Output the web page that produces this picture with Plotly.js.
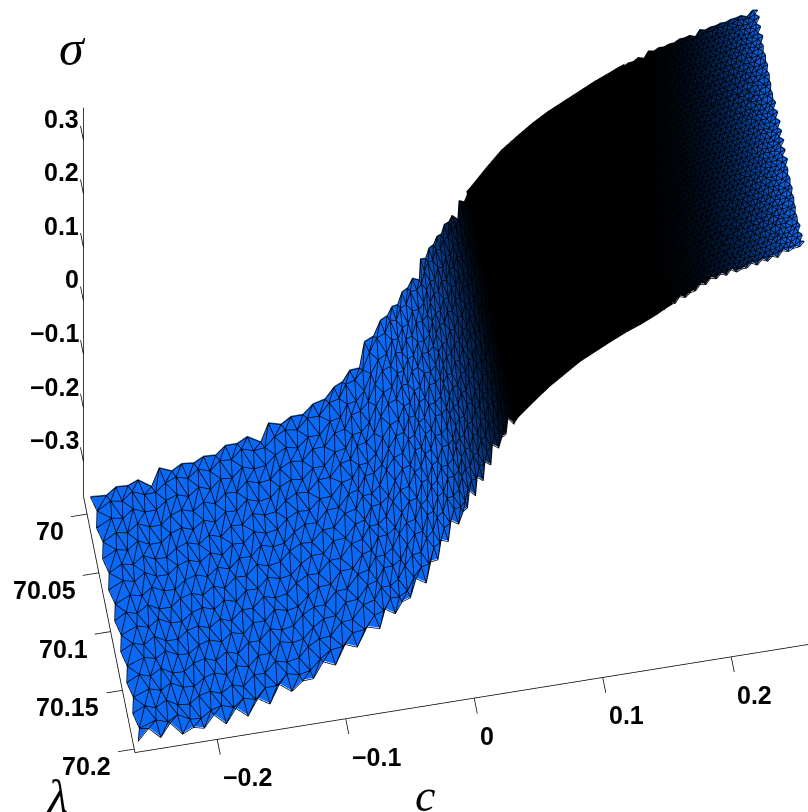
<!DOCTYPE html>
<html><head><meta charset="utf-8">
<script src="https://cdn.plot.ly/plotly-3.0.1.min.js"></script>
<style>html,body{margin:0;padding:0;background:#fff;overflow:hidden;width:808px;height:812px}#g{width:897px;height:812px}</style>
</head><body><div id="g"></div>
<script>
const cCoarse=[-.26,-.249,-.241,-.232,-.224,-.215,-.207,-.198,-.190,-.181,-.173,-.164,-.156,-.147,-.139,-.130,-.122,-.113,-.105,-.096,-.088,-.079,-.071,-.065,-.059,-.053,-.047,-.041,-.035,-.030,-.026,-.022,-.018,-.014,-.010,-.006,-.003,0,.003,.006,.009,.012,.015,.018,.021,.024,.027,.030,.033,.036];
const sigmaNearCoarse=[-.348,-.344,-.340,-.335,-.331,-.327,-.323,-.319,-.315,-.310,-.306,-.301,-.2955,-.289,-.283,-.277,-.272,-.265,-.260,-.253,-.2415,-.230,-.219,-.206,-.190,-.169,-.149,-.128,-.107,-.093,-.083,-.075,-.062,-.050,-.037,-.023,-.011,.001,.013,.025,.034,.043,.051,.060,.068,.077,.086,.094,.102,.109];
const sigmaFarCoarse=[-.36,-.36,-.36,-.36,-.36,-.359,-.358,-.357,-.354,-.351,-.346,-.338,-.33,-.321,-.313,-.305,-.298,-.29,-.277,-.263,-.25,-.236,-.222,-.211,-.199,-.187,-.176,-.163,-.151,-.136,-.111,-.097,-.08,-.066,-.051,-.037,-.025,-.014,-.003,.009,.023,.037,.05,.064,.079,.09,.101,.111,.119,.129];
const shadeCoarse=[1,1,1,1,1,1,1,1,1,1,1,1,1,1,1,1,1,1,1,1,1,1,1,1,1,1,1,1,1,1,1,1,1,.95,.9,.85,.8,.75,.7,.62,.55,.48,.4,.32,.25,.18,.12,.06,.02,0];
const lamCoarse=[69.99,70.0028,70.0156,70.0284,70.0413,70.0541,70.0669,70.0797,70.0925,70.1053,70.1181,70.1309,70.1438,70.1566,70.1694,70.1822,70.195];
const cBand=[.033,.036,.048,.060,.072,.084,.096,.108,.120,.132,.144,.150,.156];
const sigmaNearBand=[.102,.109,.140,.169,.190,.210,.227,.241,.255,.269,.281,.2875,.293];
const sigmaFarBand=[.119,.129,.153,.176,.195,.214,.228,.242,.255,.266,.279,.287,.2935];
const shadeBand=[0,0,0,0,0,0,0,0,0,0,0,0,0];
const lamBand=[69.99,70.195];
const cFine=[.150,.154,.158,.162,.166,.170,.174,.178,.182,.186,.190,.194,.198,.202,.206,.210,.214,.218,.222,.226,.230,.234,.238,.242,.246,.250,.255,.259];
const sigmaNearFine=[.2875,.291,.295,.298,.303,.306,.31,.312,.315,.317,.319,.322,.3245,.327,.329,.331,.3345,.336,.338,.341,.343,.345,.346,.349,.351,.353,.355,.358];
const sigmaFarFine=[.276,.280,.285,.289,.293,.298,.302,.306,.311,.315,.3185,.320,.322,.324,.325,.327,.329,.3305,.332,.334,.336,.3375,.340,.344,.348,.350,.353,.355];
const shadeNearFine=[0,0,0,0,0,0,.01,.02,.03,.04,.06,.08,.1,.13,.16,.2,.24,.28,.33,.38,.44,.5,.56,.64,.72,.8,.9,1];
const shadeFarFine=[.01,.02,.03,.04,.05,.07,.09,.11,.13,.16,.19,.22,.26,.3,.34,.38,.42,.46,.52,.58,.64,.7,.76,.82,.88,.94,1,1];
const lamFine=[69.99,69.994,69.998,70.002,70.006,70.01,70.014,70.018,70.022,70.026,70.03,70.034,70.038,70.042,70.046,70.05,70.054,70.058,70.062,70.066,70.07,70.074,70.078,70.082,70.086,70.09,70.094,70.098,70.102,70.106,70.11,70.114,70.118,70.122,70.126,70.13,70.134,70.138,70.142,70.146,70.15,70.154,70.158,70.162,70.166,70.17,70.174,70.178,70.182,70.186,70.19];
const lamWave=[.2,-.15,.1,-.25,.18,.28,-.08,-.2,.14,-.18];
const cBend=[.12,-.1,.2,-.16,.08,-.2,.16,.04,-.14,.1,-.08,.2,-.04];
const cTicks=[-.2,-.1,0,.1,.2], cTickText=['\u22120.2','\u22120.1','0','0.1','0.2'];
const lamTicks=[70,70.05,70.1,70.15,70.2], lamTickText=['70','70.05','70.1','70.15','70.2'];
const sigmaTicks=[-.3,-.2,-.1,0,.1,.2,.3], sigmaTickText=['\u22120.3','\u22120.2','\u22120.1','0','0.1','0.2','0.3'];
const cBox=[-.264,.264], lamBox=[69.985,70.203], sigmaBox=[-.364,.362];
const cRange=[-.277,.277], lamRange=[69.972,70.216], sigmaRange=[-.37,.363];
const cTickLen=.0142, lamTickLen=.0125, sigmaTickLen=.0127;
const BLUE=[10,105,245];

function build(cs,nr,fr,shN,shF,lams,plain){
  const x=[],y=[],z=[],col=[],I=[],J=[],K=[],lx=[],ly=[],lz=[];
  const l0=lams[0],l1=lams[lams.length-1],step=lams[1]-lams[0],last=lams.length-1;
  const idx=[];
  lams.forEach((lam,j)=>{
    const odd=!plain&&j%2;
    const n=odd?cs.length-1:cs.length;
    const row=[];
    for(let i=0;i<n;i++){
      const a=i, b=odd?i+1:i;
      const w=(f)=>(f[a]+f[b])/2;
      const sp=(i+1<cs.length?cs[i+1]-cs[i]:cs[i]-cs[i-1]);
      const c0=(odd&&i===0)?cs[0]+.25*sp:w(cs);
      let l=lam;
      if(!plain){
        l+=lamWave[i%lamWave.length]*step;
        if(j===0&&i%2) l+=step*.55;
        if(j===last&&i%2) l-=step*.55;
        if(j===last) l=Math.min(l,l1);
      }
      const cc=plain||i===0?c0:c0+cBend[j%cBend.length]*sp;
      const t=(l-l0)/(l1-l0);
      const s=w(nr)+t*(w(fr)-w(nr));
      const sh=w(shN)+t*(w(shF)-w(shN));
      row.push(x.length);
      x.push(cc);y.push(l);z.push(s);
      col.push('rgb('+BLUE.map(v=>Math.round(v*Math.max(0,Math.min(1,sh)))).join(',')+')');
    }
    idx.push(row);
  });
  const seg=(a,b)=>{ if(plain)return;
    lx.push(x[a],x[b],null);ly.push(y[a],y[b],null);lz.push(z[a]-.002,z[b]-.002,null);};
  for(let j=0;j+1<idx.length;j++){
    if(plain){
      for(let i=0;i+1<idx[j].length;i++){
        I.push(idx[j][i]);J.push(idx[j][i+1]);K.push(idx[j+1][i]);
        I.push(idx[j+1][i]);J.push(idx[j+1][i+1]);K.push(idx[j][i+1]);
      }
      continue;
    }
    const A=j%2?idx[j+1]:idx[j], B=j%2?idx[j]:idx[j+1];
    for(let i=0;i<B.length;i++){
      I.push(A[i]);J.push(A[i+1]);K.push(B[i]);
      seg(A[i],B[i]);seg(A[i+1],B[i]);
      if(i+1<B.length){I.push(B[i]);J.push(B[i+1]);K.push(A[i+1]);}
    }
  }
  idx.forEach(r=>{for(let i=0;i+1<r.length;i++)seg(r[i],r[i+1]);});
  const out=[{type:'mesh3d',x,y,z,i:I,j:J,k:K,vertexcolor:col,flatshading:false,
      lighting:{ambient:1,diffuse:0,specular:0,roughness:1,fresnel:0},hoverinfo:'skip',showscale:false}];
  if(!plain) out.push({type:'scatter3d',mode:'lines',x:lx,y:ly,z:lz,line:{color:'#000',width:1.5},hoverinfo:'skip',showlegend:false,connectgaps:false});
  return out;
}
const ax3={x:[],y:[],z:[]};
const add3=(p,q)=>{ax3.x.push(p[0],q[0],null);ax3.y.push(p[1],q[1],null);ax3.z.push(p[2],q[2],null);};
add3([cBox[0],lamBox[1],sigmaBox[0]],[cBox[1],lamBox[1],sigmaBox[0]]);
add3([cBox[0],lamBox[0],sigmaBox[0]],[cBox[0],lamBox[1],sigmaBox[0]]);
add3([cBox[0],lamBox[0],sigmaBox[0]],[cBox[0],lamBox[0],sigmaBox[1]]);
cTicks.forEach(v=>add3([v,lamBox[1],sigmaBox[0]],[v,lamBox[1]+cTickLen,sigmaBox[0]]));
lamTicks.forEach(v=>add3([cBox[0],v,sigmaBox[0]],[cBox[0]-lamTickLen,v,sigmaBox[0]]));
sigmaTicks.forEach(v=>add3([cBox[0],lamBox[0],v],[cBox[0],lamBox[0]-sigmaTickLen,v]));
const axisTrace={type:'scatter3d',mode:'lines',x:ax3.x,y:ax3.y,z:ax3.z,line:{color:'#000',width:1.5},hoverinfo:'skip',showlegend:false,connectgaps:false};

const traces=[].concat(
 build(cBand,sigmaNearBand,sigmaFarBand,shadeBand,shadeBand,lamBand,true),
 build(cCoarse,sigmaNearCoarse,sigmaFarCoarse,shadeCoarse,shadeCoarse,lamCoarse,false),
 build(cFine,sigmaNearFine,sigmaFarFine,shadeNearFine,shadeFarFine,lamFine,false),
 [axisTrace]);

const tf={family:'Liberation Sans',size:25,color:'#000',weight:'bold'};
const ax={showgrid:false,zeroline:false,showbackground:false,showline:false,ticks:'',showticklabels:false,showspikes:false,title:{text:''},tickmode:'array',tickvals:[]};
const W=897,H=812;
const ann=(t,px,py,size)=>({text:t,xref:'paper',yref:'paper',x:px/W,y:1-py/H,showarrow:false,xanchor:'center',yanchor:'middle',
  font:{family:'Liberation Serif',size:size,color:'#000',style:'italic'}});
const lab=(x,y,z,t,xa,xs,ys)=>({x,y,z,text:t,showarrow:false,xanchor:xa,yanchor:'middle',xshift:xs,yshift:ys,font:tf});
const sceneAnn=[].concat(
  cTicks.map((v,i)=>lab(v,lamBox[1],sigmaBox[0],cTickText[i],'left',4,-38)),
  lamTicks.map((v,i)=>lab(cBox[0],v,sigmaBox[0],lamTickText[i],'right',-21,-17)),
  sigmaTicks.map((v,i)=>lab(cBox[0],lamBox[0],v,sigmaTickText[i],'right',-3,22)));
const k=1;
const n=[.079,-.44,-.894];
const ctr={x:0,y:0,z:-.16};
const layout={width:W,height:H,margin:{l:0,r:0,t:0,b:0,pad:0},paper_bgcolor:'#fff',showlegend:false,
  annotations:[ann('\u03c3',72,48,50),ann('\u03bb',57,796,46),ann('c',425,795,46)],
  scene:{domain:{x:[0,1],y:[0,1]},aspectmode:'manual',aspectratio:{x:1.7816,y:.8021,z:2.1624},annotations:sceneAnn,
    camera:{projection:{type:'orthographic'},up:{x:0,y:0,z:1},center:ctr,
      eye:{x:ctr.x+n[0]*k,y:ctr.y+n[1]*k,z:ctr.z+n[2]*k}},
    xaxis:Object.assign({},ax,{range:cRange}),
    yaxis:Object.assign({},ax,{range:lamRange}),
    zaxis:Object.assign({},ax,{range:sigmaRange})}};
Plotly.newPlot('g',traces,layout,{displayModeBar:false});
</script></body></html>
